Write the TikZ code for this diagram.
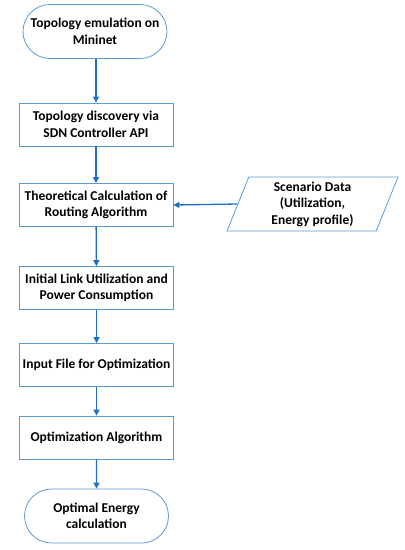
\documentclass[tikz,border=0pt]{standalone}
\usepackage{fontspec}
\setmainfont{Carlito}
\usetikzlibrary{shapes.geometric,shapes.misc,arrows.meta}
\definecolor{edgeblue}{RGB}{91,155,213}
\definecolor{arrowblue}{RGB}{30,110,200}
\tikzset{
  x=1pt,y=-1pt,
  lbl/.style={font=\fontsize{13.5}{16.5}\selectfont\bfseries, align=center, text=black},
  procbox/.style={lbl, draw=edgeblue, line width=0.8pt, rectangle, minimum width=154pt, minimum height=43pt, inner sep=0pt},
  termbox/.style={lbl, draw=edgeblue, line width=0.8pt, rounded rectangle, minimum width=144pt, minimum height=54pt, inner sep=0pt},
  databox/.style={lbl, draw=edgeblue, line width=0.8pt, trapezium, trapezium left angle=64, trapezium right angle=116, minimum width=171pt, minimum height=54pt, inner sep=0pt, trapezium stretches body},
  flow/.style={draw=arrowblue, line width=1.3pt, -{Triangle[width=6pt,length=6pt]}}
}
\begin{document}
\begin{tikzpicture}
\useasboundingbox (0,0) rectangle (405,550);
\node[termbox] (t1) at (95,31.5) {Topology emulation on\\Mininet};
\node[procbox] (b2) at (96,124.5) {Topology discovery via\\SDN Controller API};
\node[procbox] (b3) at (96,205) {Theoretical Calculation of\\Routing Algorithm};
\node[databox] (sd) at (312.5,204) {Scenario Data\\(Utilization,\\Energy profile)};
\node[procbox] (b4) at (96.5,288) {Initial Link Utilization and\\Power Consumption};
\node[procbox] (b5) at (96.5,365) {Input File for Optimization};
\node[procbox] (b6) at (96.5,437.5) {Optimization Algorithm};
\node[termbox] (t2) at (96.5,516) {Optimal Energy\\calculation};
\draw[flow] (t1.south -| b2.north) -- (b2.north);
\draw[flow] (b2) -- (b3);
\draw[flow] (sd.west) -- (b3.east);
\draw[flow] (b3) -- (b4);
\draw[flow] (b4) -- (b5);
\draw[flow] (b5) -- (b6);
\draw[flow] (b6) -- (t2);
\end{tikzpicture}
\end{document}
